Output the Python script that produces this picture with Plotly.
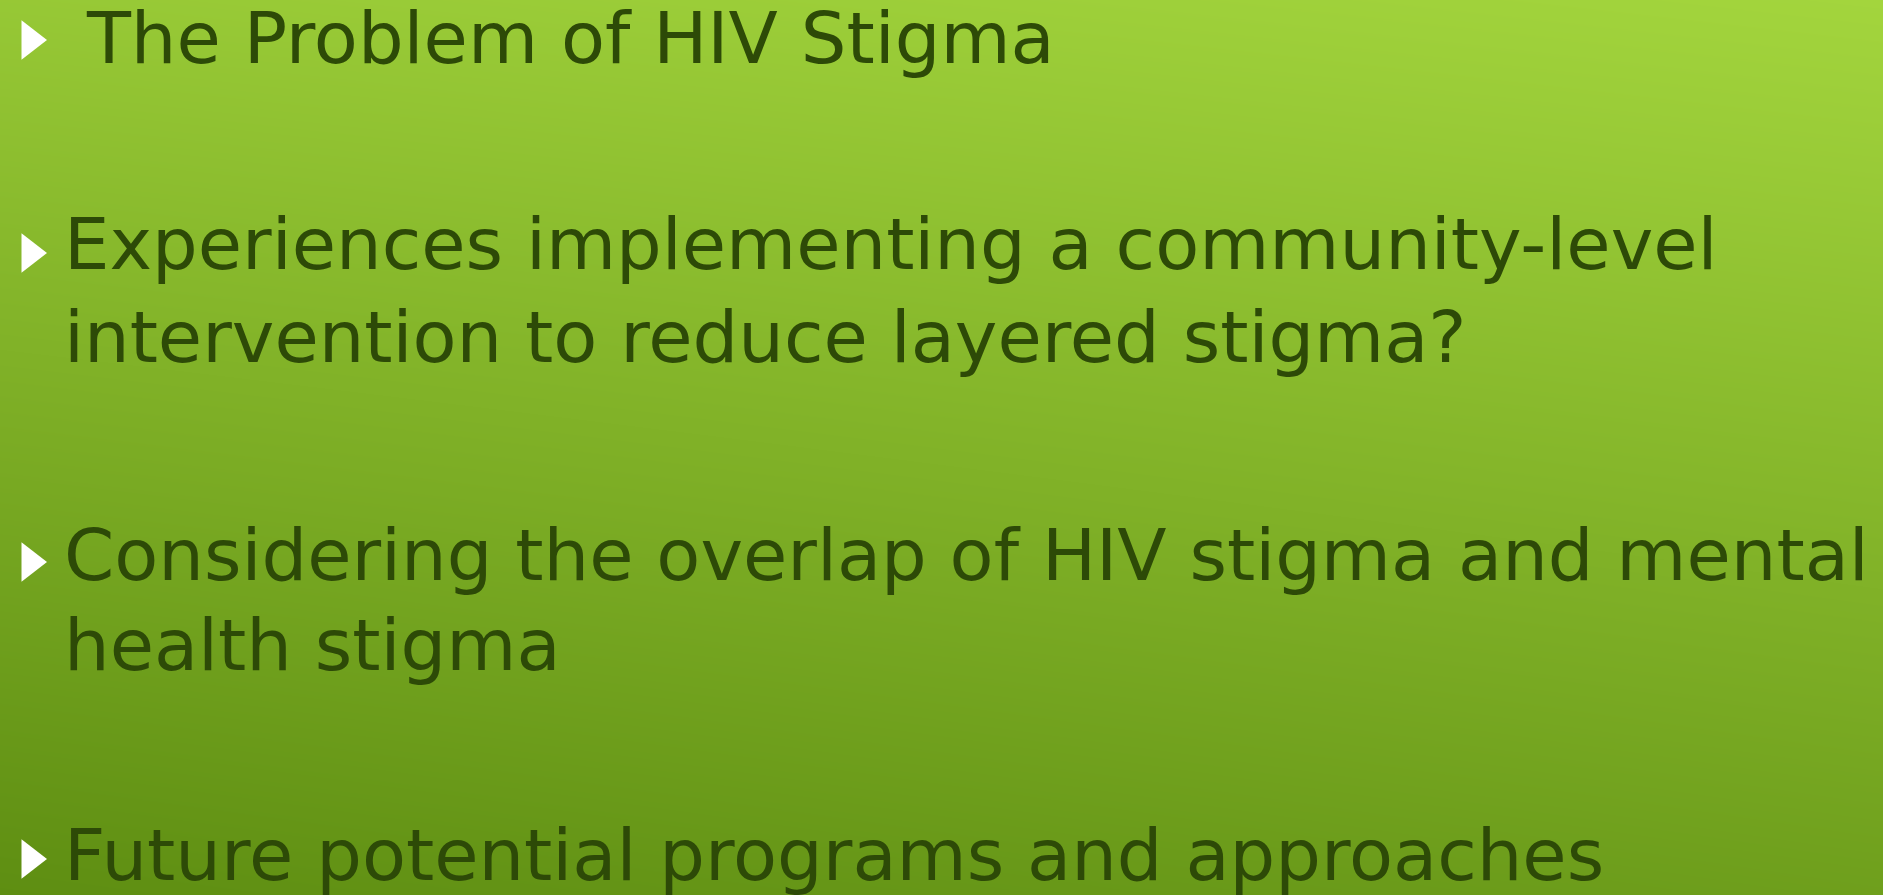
import plotly.graph_objects as go

W, H = 1883, 895

# Slide content
bullet_items = [
    [" The Problem of HIV Stigma"],
    ["Experiences implementing a community-level",
     "intervention to reduce layered stigma?"],
    ["Considering the overlap of HIV stigma and mental",
     "health stigma"],
    ["Future potential programs and approaches"],
]
# baselines (pixel rows) of each text line, per item
line_baselines = [[60], [266, 359], [577, 667], [877]]
bullet_centers = [40, 253, 562, 859]

# background gradient corner shades (0 = darkest, 1 = lightest)
bg_x = [0, W]
bg_y = [0, H]
bg_z = [[0.82, 1.0], [0.0, 0.24]]
bg_colors = [[0.0, "#5e8e12"], [1.0, "#a3d53d"]]

TEXT_COLOR = "#2d4a07"
FONT = "DejaVu Sans"
FSIZE = 72
TEXT_X = 62

fig = go.Figure()
fig.add_trace(go.Heatmap(x=bg_x, y=bg_y, z=bg_z, colorscale=bg_colors,
                         zsmooth="best", showscale=False, hoverinfo="skip"))
fig.add_trace(go.Scatter(x=[30] * len(bullet_centers), y=bullet_centers,
                         mode="markers",
                         marker=dict(symbol="triangle-right", size=34,
                                     color="white", line=dict(width=0)),
                         hoverinfo="skip"))

for lines, bases in zip(bullet_items, line_baselines):
    for txt, b in zip(lines, bases):
        fig.add_annotation(x=TEXT_X, y=b - 0.30 * FSIZE, xref="x", yref="y",
                           text=txt, showarrow=False, xanchor="left",
                           yanchor="middle",
                           font=dict(family=FONT, size=FSIZE, color=TEXT_COLOR))

fig.update_layout(
    width=W, height=H, margin=dict(l=0, r=0, t=0, b=0),
    paper_bgcolor="#7fae25", plot_bgcolor="#7fae25",
    showlegend=False,
    xaxis=dict(range=[0, W], visible=False, fixedrange=True),
    yaxis=dict(range=[H, 0], visible=False, fixedrange=True),
)
fig.write_html("out.html", config={"displayModeBar": False},
               post_script="document.body.style.margin='0';"
                           "document.body.style.overflow='hidden';")
